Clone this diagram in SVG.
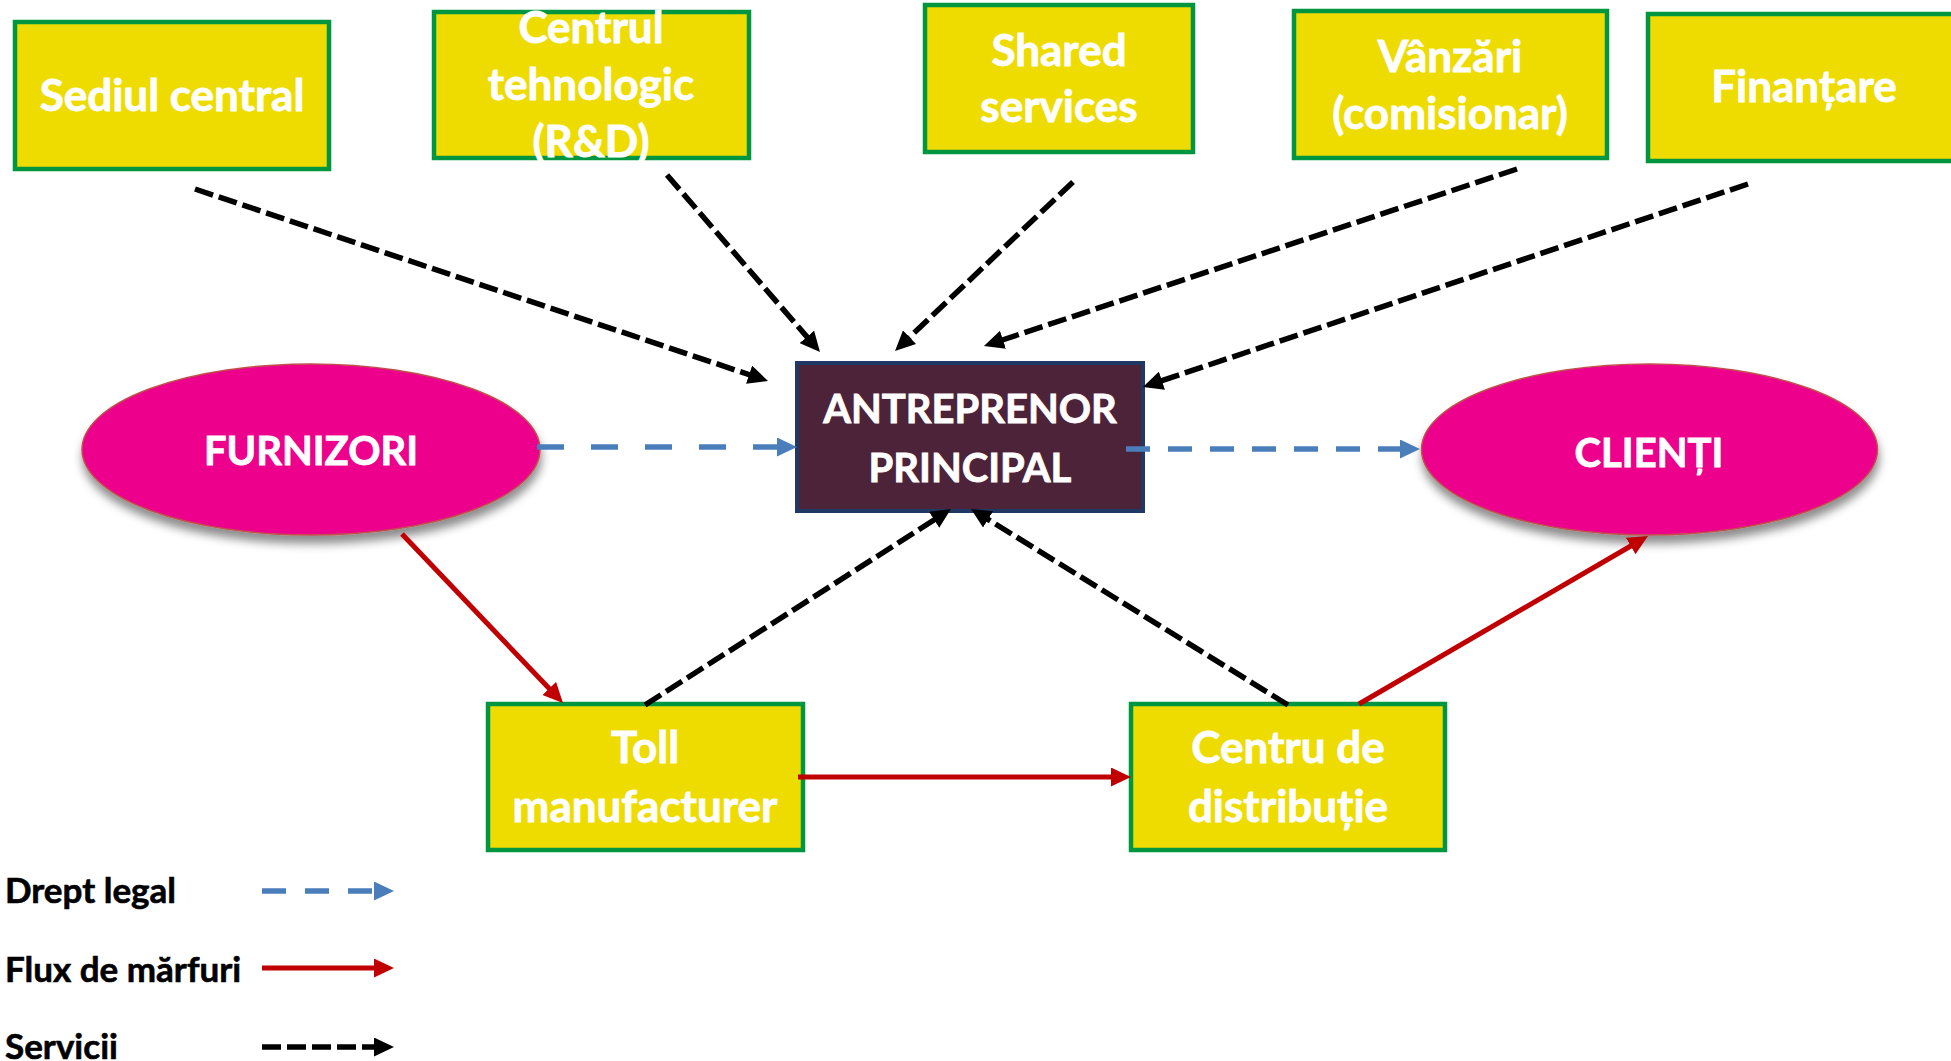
<svg xmlns="http://www.w3.org/2000/svg" width="1951" height="1061" viewBox="0 0 1951 1061">
<defs>
<style>
.box{fill:#EEDC00;stroke:#00963F;stroke-width:4.5}
.main{fill:#4D2339;stroke:#1F3864;stroke-width:4}
.ell{fill:#EC008C;stroke:#C0504D;stroke-width:1.5}
.t{font-family:Lato,"Open Sans","Liberation Sans",sans-serif;font-weight:bold;fill:#FFFFFF;stroke:#FFFFFF;stroke-width:0.8;text-anchor:middle;font-size:44px}
.tc{font-family:Lato,"Open Sans","Liberation Sans",sans-serif;font-weight:bold;fill:#FFFFFF;stroke:#FFFFFF;stroke-width:0.8;text-anchor:middle;font-size:40px}
.lg{font-family:Lato,"Open Sans","Liberation Sans",sans-serif;font-weight:bold;fill:#000000;stroke:#000000;stroke-width:0.6;font-size:35px}
.svc{stroke:#000000;stroke-width:5.5;fill:none;stroke-dasharray:19 6;marker-end:url(#mk)}
.red{stroke:#C00000;stroke-width:5;fill:none;marker-end:url(#mr)}
.leg{stroke:#4A7EBB;stroke-width:5.5;fill:none;marker-end:url(#mb)}
</style>
<marker id="mk" markerUnits="userSpaceOnUse" markerWidth="20" markerHeight="19" viewBox="0 0 20 19" refX="9" refY="9.5" orient="auto"><path d="M0,0 L20,9.5 L0,19 z" fill="#000000"/></marker>
<marker id="mr" markerUnits="userSpaceOnUse" markerWidth="20" markerHeight="19" viewBox="0 0 20 19" refX="9" refY="9.5" orient="auto"><path d="M0,0 L20,9.5 L0,19 z" fill="#C00000"/></marker>
<marker id="mb" markerUnits="userSpaceOnUse" markerWidth="20" markerHeight="19" viewBox="0 0 20 19" refX="9" refY="9.5" orient="auto"><path d="M0,0 L20,9.5 L0,19 z" fill="#4A7EBB"/></marker>
<filter id="sh" x="-10%" y="-10%" width="120%" height="135%"><feDropShadow dx="1" dy="8" stdDeviation="5" flood-color="#000000" flood-opacity="0.45"/></filter>
</defs>
<rect width="1951" height="1061" fill="#FFFFFF"/>

<g id="sediul-central"><rect class="box" x="15" y="22" width="314" height="147"/><text class="t" x="172" y="111">Sediul central</text></g>
<g id="centrul-tehnologic"><rect class="box" x="434" y="12" width="315" height="146"/><text class="t" x="591" y="43">Centrul</text><text class="t" x="591" y="100">tehnologic</text><text class="t" x="591" y="157">(R&amp;D)</text></g>
<g id="shared-services"><rect class="box" x="925" y="5" width="268" height="147"/><text class="t" x="1059" y="66">Shared</text><text class="t" x="1059" y="122">services</text></g>
<g id="vanzari"><rect class="box" x="1294" y="11" width="313" height="147"/><text class="t" x="1450" y="72">Vânzări</text><text class="t" x="1450" y="129">(comisionar)</text></g>
<g id="finantare"><rect class="box" x="1648" y="14" width="312" height="147"/><text class="t" x="1804" y="102">Finanțare</text></g>
<g id="furnizori"><ellipse class="ell" filter="url(#sh)" cx="311" cy="449.5" rx="229" ry="85.5"/><text class="tc" x="311" y="465">FURNIZORI</text></g>
<g id="antreprenor"><rect class="main" x="797" y="363" width="346" height="148"/><text class="tc" x="970" y="423">ANTREPRENOR</text><text class="tc" x="970" y="482">PRINCIPAL</text></g>
<g id="clienti"><ellipse class="ell" filter="url(#sh)" cx="1649.5" cy="449.5" rx="228" ry="85.5"/><text class="tc" x="1649" y="467">CLIENȚI</text></g>
<g id="toll"><rect class="box" x="488" y="704" width="315" height="146"/><text class="t" x="645" y="763">Toll</text><text class="t" x="645" y="822">manufacturer</text></g>
<g id="centru-distributie"><rect class="box" x="1131" y="704" width="314" height="146"/><text class="t" x="1288" y="763">Centru de</text><text class="t" x="1288" y="822">distribuție</text></g>

<g id="connectors">
<line class="svc" x1="195" y1="189" x2="757.6" y2="377.5"/>
<line class="svc" x1="667" y1="175" x2="812.8" y2="343.6"/>
<line class="svc" x1="1073" y1="182" x2="903" y2="343.4"/>
<line class="svc" x1="1517" y1="169" x2="994.4" y2="342.6"/>
<line class="svc" x1="1748" y1="184" x2="1153.4" y2="383.5"/>
<line class="svc" x1="645" y1="705" x2="941.7" y2="515"/>
<line class="svc" x1="1288" y1="705" x2="980.4" y2="514.7"/>
<line class="red" x1="402" y1="534" x2="555.4" y2="695"/>
<line class="red" x1="798" y1="777" x2="1120" y2="777"/>
<line class="red" x1="1359" y1="704" x2="1638.5" y2="541.5"/>
<line class="leg" x1="537" y1="447" x2="786" y2="447" stroke-dasharray="27 27"/>
<line class="leg" x1="1126" y1="449" x2="1409" y2="449" stroke-dasharray="24 18"/>
</g>

<g id="legend">
<text class="lg" x="5" y="903">Drept legal</text>
<text class="lg" x="5" y="982">Flux de mărfuri</text>
<text class="lg" x="5" y="1059">Servicii</text>
<line class="leg" x1="262" y1="891" x2="383" y2="891" stroke-dasharray="24 19"/>
<line class="red" x1="262" y1="968" x2="383" y2="968"/>
<line class="svc" x1="262" y1="1047" x2="383" y2="1047" stroke-dasharray="18 6"/>
</g>
</svg>
